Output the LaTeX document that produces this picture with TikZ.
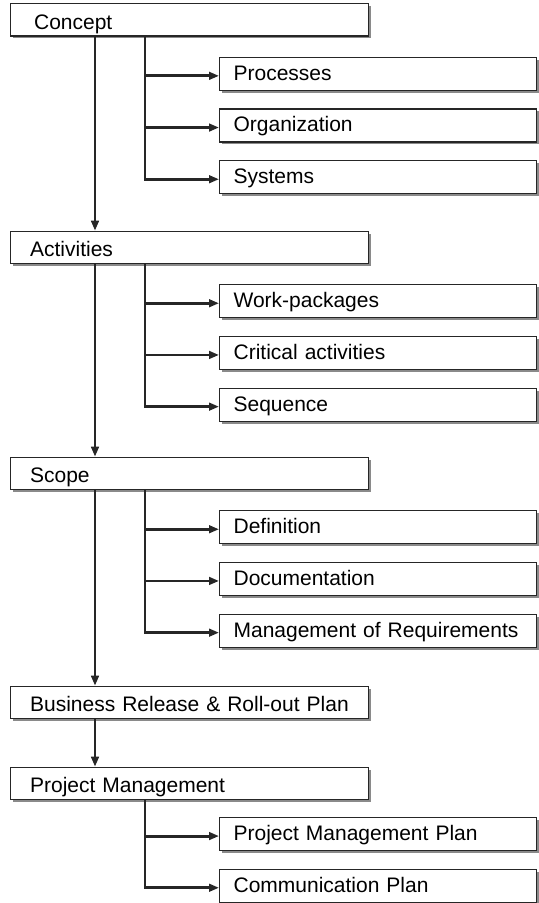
\documentclass[tikz,border=0pt]{standalone}
\usepackage{fontspec}
\setmainfont{Liberation Sans}
\usetikzlibrary{arrows.meta,positioning,shadows,calc}
\definecolor{ln}{HTML}{262626}
\definecolor{shd}{HTML}{8A8A8A}
\tikzset{
  box/.style={draw=ln,line width=0.6pt,fill=white,align=left,anchor=north west,inner ysep=0pt,inner xsep=10pt,text width=159pt,
    minimum height=16.1pt,text height=11.2pt,text depth=2pt,
    drop shadow={shadow xshift=1.2pt,shadow yshift=-1.2pt,fill=shd,opacity=1}},
  sbox/.style={box,inner xsep=7pt,text width=144.5pt,minimum height=16.55pt,text height=8.85pt,text depth=2.5pt},
  ar/.style={-{Triangle[length=5pt,width=3.8pt]},line width=1.45pt,draw=ln},
}

\begin{document}
\begin{tikzpicture}[x=0.5pt,y=-0.5pt,font=\fontsize{10.5}{12}\selectfont]
\useasboundingbox (0,0) rectangle (538,903);
% main steps
\node[box] (concept) at (9.5,3.3) {\hspace*{2pt}Concept};
\node[box] (act) at (9.5,230.7) {Activities};
\node[box] (scope) at (9.5,456.7) {Scope};
\node[box] (rel) at (9.5,685.7) {\mbox{Business Release \& Roll-out Plan}};
\node[box] (pm) at (9.5,766.7) {Project Management};
% sub items
\node[sbox,below right=10pt and 104.75pt of concept.south west] (proc) {Processes};
\node[sbox,below=8.7pt of proc] (org) {Organization};
\node[sbox,below=8.7pt of org] (sys) {Systems};
\node[sbox,below right=10pt and 104.75pt of act.south west] (wp) {Work-packages};
\node[sbox,below=8.7pt of wp] (crit) {Critical activities};
\node[sbox,below=8.7pt of crit] (seq) {Sequence};
\node[sbox,below right=10pt and 104.75pt of scope.south west] (def) {Definition};
\node[sbox,below=8.7pt of def] (doc) {Documentation};
\node[sbox,below=8.7pt of doc] (req) {Management of Requirements};
\node[sbox,below right=8.4pt and 104.75pt of pm.south west] (pmp) {Project Management Plan};
\node[sbox,below=8.7pt of pmp] (com) {Communication Plan};
% connectors
\foreach \m in {concept,act,scope,rel,pm}{
  \coordinate (\m-d) at ($(\m.south west)+(85.5,0)$);
  \coordinate (\m-b) at ($(\m.south west)+(135.5,0)$);
}
\draw[ar] (concept-d) -- (concept-d |- act.north);
\draw[ar] (act-d) -- (act-d |- scope.north);
\draw[ar] (scope-d) -- (scope-d |- rel.north);
\draw[ar] (rel-d) -- (rel-d |- pm.north);
\foreach \s in {proc,org,sys} \draw[ar] (concept-b) |- ([yshift=-1pt]\s.west);
\foreach \s in {wp,crit,seq} \draw[ar] (act-b) |- ([yshift=-1pt]\s.west);
\foreach \s in {def,doc,req} \draw[ar] (scope-b) |- ([yshift=-1pt]\s.west);
\foreach \s in {pmp,com} \draw[ar] (pm-b) |- ([yshift=-1pt]\s.west);
\end{tikzpicture}
\end{document}
